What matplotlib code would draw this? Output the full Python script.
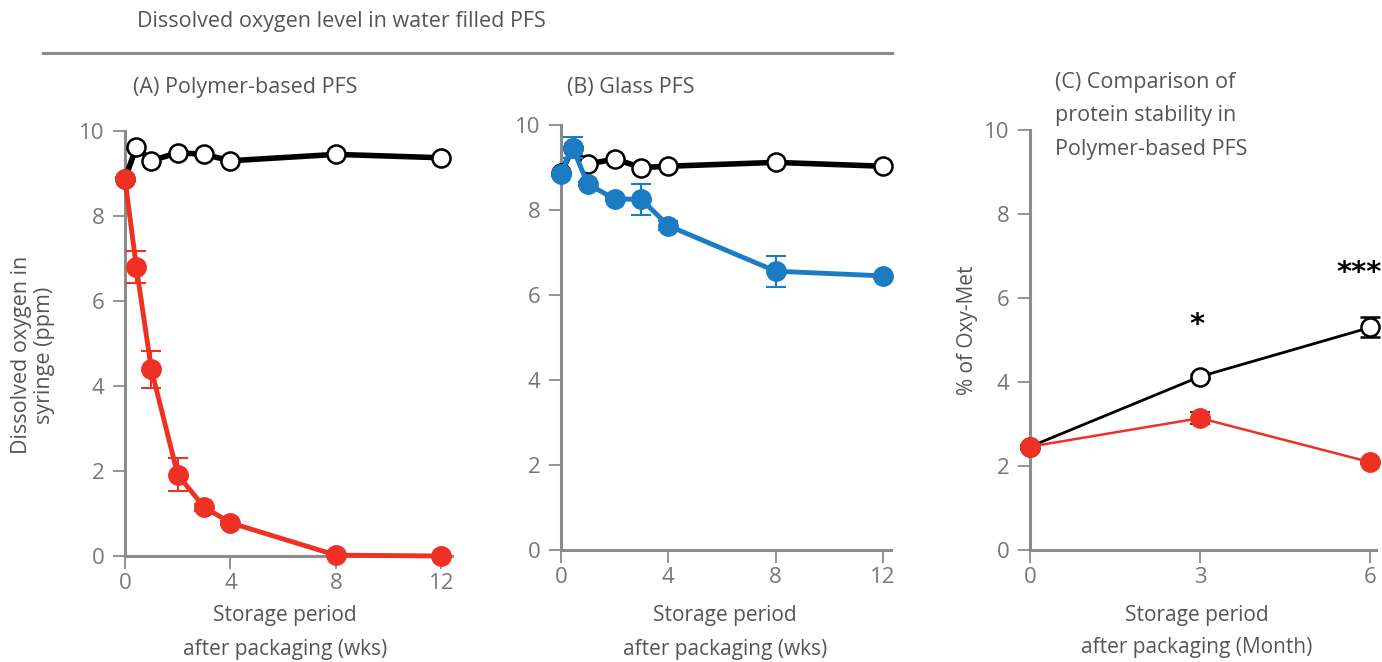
import matplotlib
matplotlib.use("Agg")
import matplotlib.pyplot as plt
from matplotlib.lines import Line2D

plt.rcParams['font.family'] = ['Open Sans', 'DejaVu Sans']

# (A) polymer-based PFS, weeks
weeks_a = [0, 0.43, 1, 2, 3, 4, 8, 12]
ctrl_a = [8.87, 9.63, 9.30, 9.49, 9.45, 9.30, 9.45, 9.37]
poly_a = [8.87, 6.80, 4.39, 1.91, 1.15, 0.78, 0.02, 0.0]
poly_a_err = [0.05, 0.38, 0.43, 0.39, 0.08, 0.05, 0.03, 0.03]

# (B) glass PFS, weeks
weeks_b = [0, 0.43, 1, 2, 3, 4, 8, 12]
ctrl_b = [8.87, 9.45, 9.08, 9.20, 9.00, 9.03, 9.12, 9.03]
glass_b = [8.85, 9.47, 8.61, 8.26, 8.25, 7.63, 6.56, 6.45]
glass_b_err = [0.05, 0.25, 0.05, 0.05, 0.37, 0.10, 0.36, 0.05]

# (C) protein stability, months
months_c = [0, 3, 6]
ctrl_c = [2.46, 4.13, 5.30]
ctrl_c_err = [0.05, 0.05, 0.24]
poly_c = [2.46, 3.14, 2.09]
poly_c_err = [0.05, 0.15, 0.05]
signif = ["", "*", "***"]
signif_x = [0, 2.95, 5.8]
signif_y = [0, 5.35, 6.6]

RED = "#ee3124"
BLUE = "#1a7cc3"
GREY = "#8a8c8b"
TXT = "#555555"
TICK = "#777777"

fig = plt.figure(figsize=(13.82, 6.62), dpi=100)
W, H = 1382, 662


def px_axes(left, top, right, bottom):
    return fig.add_axes([left / W, 1 - bottom / H, (right - left) / W, (bottom - top) / H])


def style(ax, xticks, xlim):
    for s in ["top", "right"]:
        ax.spines[s].set_visible(False)
    for s in ["left", "bottom"]:
        ax.spines[s].set_color(GREY)
        ax.spines[s].set_linewidth(2.2)
    ax.set_ylim(0, 10)
    ax.set_yticks([0, 2, 4, 6, 8, 10])
    ax.set_xlim(*xlim)
    ax.set_xticks(xticks)
    ax.tick_params(colors=GREY, labelcolor=TICK, labelsize=16, width=1.3, length=9)
    ax.tick_params(axis="y", pad=6)
    ax.tick_params(axis="x", pad=3)


open_kw = dict(marker="o", markersize=13, markerfacecolor="white", markeredgecolor="black",
               markeredgewidth=1.8, clip_on=False)

# panel A
axA = px_axes(125, 131, 452, 556)
style(axA, [0, 4, 8, 12], (0, 12.4))
axA.plot(weeks_a, ctrl_a, color="black", lw=4, zorder=3, **open_kw)
axA.errorbar(weeks_a, poly_a, yerr=poly_a_err, color=RED, lw=3.5, marker="o", markersize=14,
             ecolor=RED, elinewidth=1.5, capsize=7, capthick=1.5, zorder=4, clip_on=False)

# panel B
axB = px_axes(561, 125, 891, 550)
style(axB, [0, 4, 8, 12], (0, 12.3))
axB.plot(weeks_b, ctrl_b, color="black", lw=4, zorder=3, **open_kw)
axB.errorbar(weeks_b, glass_b, yerr=glass_b_err, color=BLUE, lw=3.5, marker="o", markersize=14,
             ecolor=BLUE, elinewidth=1.5, capsize=7, capthick=1.5, zorder=4, clip_on=False)

# panel C
axC = px_axes(1030, 130, 1376, 550)
style(axC, [0, 3, 6], (0, 6.1))
axC.errorbar(months_c, ctrl_c, yerr=ctrl_c_err, color="black", lw=2, ecolor="black",
             elinewidth=1.5, capsize=7, capthick=1.5, zorder=3, **open_kw)
axC.errorbar(months_c, poly_c, yerr=poly_c_err, color=RED, lw=1.8, marker="o", markersize=14,
             ecolor="#333333", elinewidth=1.5, capsize=7, capthick=1.5, zorder=4, clip_on=False)
for x, s, y in zip(signif_x, signif, signif_y):
    if s:
        axC.text(x, y, s, ha="center", va="center", fontsize=21, fontweight="bold",
                 color="black", family="DejaVu Sans")

# titles and labels
fs = 15.5
fig.text(137 / W, 1 - 22 / H, "Dissolved oxygen level in water filled PFS", fontsize=fs,
         color=TXT, ha="left", va="center")
fig.add_artist(Line2D([43 / W, 892 / W], [1 - 53 / H, 1 - 53 / H], color=GREY, lw=2.2))
fig.text(133 / W, 1 - 88 / H, "(A) Polymer-based PFS", fontsize=fs, color=TXT, va="center")
fig.text(567 / W, 1 - 87 / H, "(B) Glass PFS", fontsize=fs, color=TXT, va="center")
fig.text(1055 / W, 1 - 116 / H, "(C) Comparison of\nprotein stability in\nPolymer-based PFS",
         fontsize=fs, color=TXT, va="center", linespacing=1.78)

fig.text(33 / W, 1 - 355 / H, "Dissolved oxygen in\nsyringe (ppm)", rotation=90, fontsize=fs,
         color=TXT, ha="center", va="center", linespacing=1.15)
fig.text(968 / W, 1 - 330 / H, "% of Oxy-Met", rotation=90, fontsize=15,
         color=TXT, ha="center", va="center")

for cx in [285, 725]:
    fig.text(cx / W, 1 - 615 / H, "Storage period", fontsize=15, color=TXT, ha="center", va="center")
    fig.text(cx / W, 1 - 650 / H, "after packaging (wks)", fontsize=15, color=TXT, ha="center", va="center")
fig.text(1197 / W, 1 - 615 / H, "Storage period", fontsize=15, color=TXT, ha="center", va="center")
fig.text(1197 / W, 1 - 648 / H, "after packaging (Month)", fontsize=15, color=TXT, ha="center", va="center")

fig.savefig("out.png", dpi=100)
